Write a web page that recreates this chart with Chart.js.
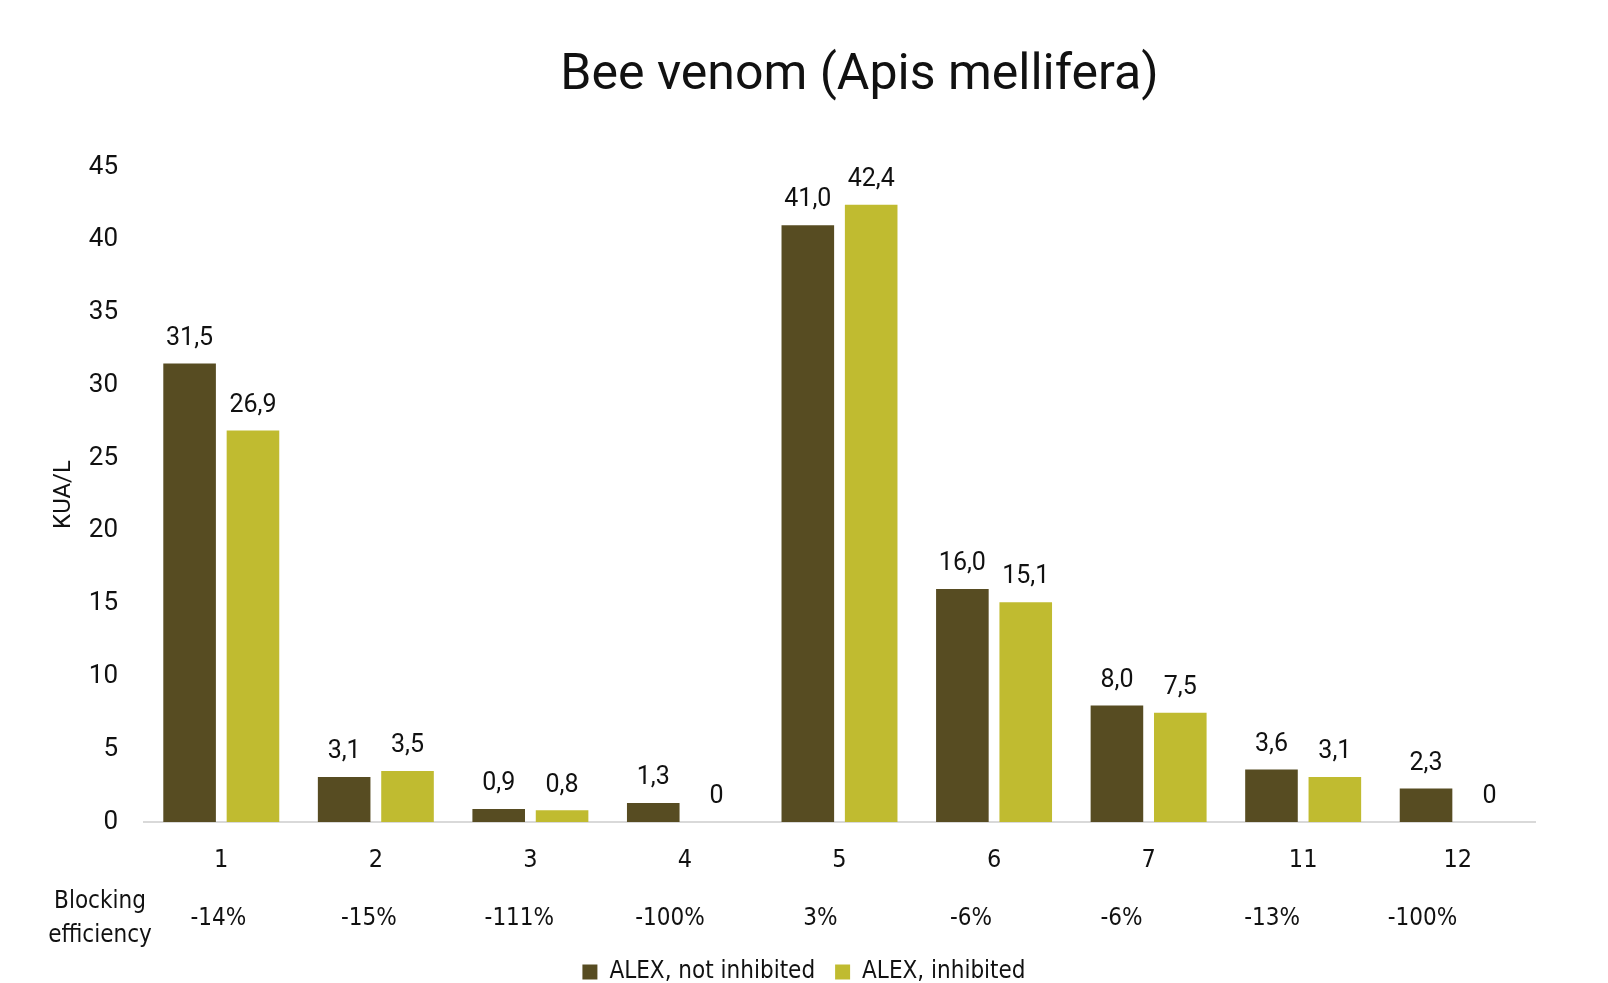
<!DOCTYPE html>
<html lang="en">
<head>
    <meta charset="UTF-8">
    <title>Bee venom (Apis mellifera)</title>
    <script src="https://cdn.jsdelivr.net/npm/chart.js"></script>
    <style>
        body {
            margin: 0;
            padding: 0;
            background-color: #ffffff;
        }

        .chart-box {
            width: 1608px;
            height: 983px;
            position: relative;
        }
    </style>
</head>
<body>
    <div class="chart-box">
        <canvas id="beeChart"></canvas>
    </div>

    <script>
        // Data
        const patients = ['1', '2', '3', '4', '5', '6', '7', '11', '12'];
        const notInhibited = [31.5, 3.1, 0.9, 1.3, 41.0, 16.0, 8.0, 3.6, 2.3];
        const inhibited = [26.9, 3.5, 0.8, 0, 42.4, 15.1, 7.5, 3.1, 0];
        const blockingEfficiency = ['-14%', '-15%', '-111%', '-100%', '3%', '-6%', '-6%', '-13%', '-100%'];
        const yTicks = [0, 5, 10, 15, 20, 25, 30, 35, 40, 45];

        const darkOlive = '#574c22';
        const lightOlive = '#c0bb30';
        const narrowFont = "'Liberation Sans Narrow', 'DejaVu Sans Condensed', sans-serif";
        const plainFont = "Roboto, 'Open Sans', sans-serif";

        function formatValue(v) {
            if (v === 0) return '0';
            return v.toFixed(1).replace('.', ',');
        }

        // Value labels above bars
        const valueLabels = {
            id: 'valueLabels',
            afterDatasetsDraw(chart) {
                const ctx = chart.ctx;
                ctx.save();
                ctx.font = '25px ' + plainFont;
                ctx.fillStyle = '#111111';
                ctx.textAlign = 'center';
                ctx.textBaseline = 'middle';
                chart.data.datasets.forEach((ds, di) => {
                    const meta = chart.getDatasetMeta(di);
                    meta.data.forEach((bar, i) => {
                        ctx.fillText(formatValue(ds.data[i]), bar.x, bar.y - 25);
                    });
                });
                ctx.restore();
            }
        };

        // title (slightly right of centre, like the original) and the
        // "Blocking efficiency" row under the category labels
        const extraText = {
            id: 'extraText',
            afterDraw(chart) {
                const ctx = chart.ctx;
                const area = chart.chartArea;
                const xs = chart.scales.x;
                const catW = xs.width / patients.length;
                const rowY = area.bottom + 97;
                ctx.save();
                ctx.fillStyle = '#111111';
                ctx.textAlign = 'center';
                ctx.textBaseline = 'middle';

                ctx.font = '50px ' + plainFont;
                ctx.fillText('Bee venom (Apis mellifera)', (area.left + area.right) / 2 + 20, 76);

                ctx.font = '24px ' + narrowFont;
                ctx.fillText('Blocking', 100, rowY - 17);
                ctx.fillText('efficiency', 100, rowY + 17);
                blockingEfficiency.forEach((txt, i) => {
                    const x = xs.getPixelForValue(0) - 3 + i * catW * 0.974;
                    ctx.fillText(txt, x, rowY);
                });
                ctx.restore();
            }
        };

        const ctx = document.getElementById('beeChart').getContext('2d');

        new Chart(ctx, {
            type: 'bar',
            data: {
                labels: patients,
                datasets: [{
                    label: 'ALEX, not inhibited',
                    data: notInhibited,
                    backgroundColor: darkOlive,
                    categoryPercentage: 0.82,
                    barPercentage: 0.83
                }, {
                    label: 'ALEX, inhibited',
                    data: inhibited,
                    backgroundColor: lightOlive,
                    categoryPercentage: 0.82,
                    barPercentage: 0.83
                }]
            },
            options: {
                responsive: true,
                maintainAspectRatio: false,
                animation: false,
                layout: {
                    padding: { left: 0, right: 0, top: 167, bottom: -11 }
                },
                plugins: {
                    title: { display: false },
                    legend: {
                        position: 'bottom',
                        labels: {
                            boxWidth: 15,
                            boxHeight: 15,
                            color: '#111111',
                            font: { family: narrowFont, size: 24 },
                            padding: 20
                        }
                    },
                    tooltip: { enabled: false }
                },
                scales: {
                    x: {
                        grid: { display: false },
                        border: { display: true, color: '#d9d9d9', width: 2 },
                        ticks: {
                            color: '#111111',
                            font: { family: narrowFont, size: 25 },
                            padding: 15
                        },
                        afterFit(scale) {
                            scale.height = 118;
                        }
                    },
                    y: {
                        min: 0,
                        max: 45,
                        afterBuildTicks(scale) {
                            scale.ticks = yTicks.map(v => ({ value: v }));
                        },
                        grid: { display: false, drawTicks: false },
                        border: { display: false },
                        ticks: {
                            color: '#111111',
                            font: { family: plainFont, size: 26 },
                            padding: 26
                        },
                        title: {
                            display: true,
                            text: 'KUA/L',
                            color: '#111111',
                            font: { family: plainFont, size: 24 },
                            padding: { top: 50, bottom: 0 }
                        },
                        afterFit(scale) {
                            scale.width = 144;
                        }
                    },
                    // empty right-hand axis, only keeps space free on the right
                    spacer: {
                        type: 'linear',
                        position: 'right',
                        grid: { display: false },
                        border: { display: false },
                        ticks: { display: false },
                        afterFit(scale) {
                            scale.width = 73;
                        }
                    }
                }
            },
            plugins: [valueLabels, extraText]
        });
    </script>
</body>
</html>
